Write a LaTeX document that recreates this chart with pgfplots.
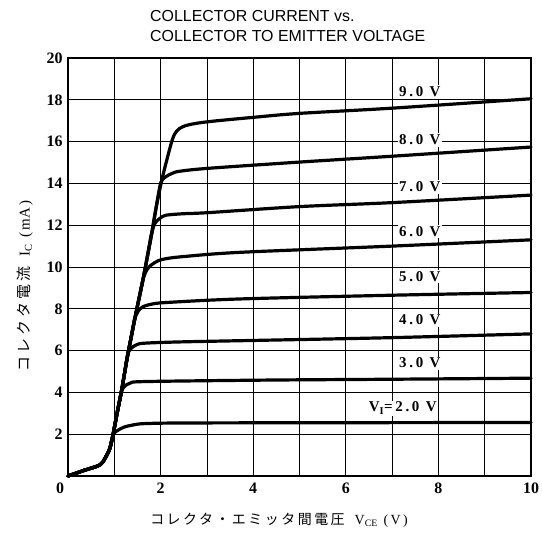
\documentclass[border=0pt]{standalone}
\usepackage{fontspec}
\setmainfont{Liberation Serif}
\newfontfamily\titlefont{Liberation Sans}
\newfontfamily\cjk[LetterSpace=18]{Noto Sans CJK JP}
\newfontfamily\cjky[LetterSpace=22]{Noto Sans CJK JP}
\newfontfamily\lblfont[LetterSpace=18]{Liberation Serif}
\usepackage{pgfplots}
\pgfplotsset{compat=1.18}

\begin{document}
\begin{tikzpicture}
\useasboundingbox (-68bp,-58bp) rectangle (474bp,476bp);
\begin{axis}[
  at={(0,0)}, anchor=south west,
  scale only axis, width=463bp, height=418bp,
  xmin=0, xmax=10, ymin=0, ymax=20,
  xtick={0,1,...,10},
  xticklabels={\makebox[0pt][r]{0\hspace{4bp}},,2,,4,,6,,8,,10},
  ytick={0,2,...,20},
  yticklabels={,2,4,6,8,10,12,14,16,18,20},
  grid=major,
  grid style={black, line width=0.8bp},
  major tick length=0pt,
  axis line style={line width=2bp},
  tick label style={font=\fontsize{16}{16}\selectfont\bfseries},
  xticklabel style={yshift=-3bp},
  yticklabel style={xshift=-2bp},
  curve/.style={black, line width=3.2bp, no markers, smooth, tension=0.5, line join=round, line cap=round},
  clip=false,
]
% V_I = 2.0 V
\addplot[curve] coordinates {(0,0) (0.35,0.27) (0.69,0.53) (0.8,0.85) (0.9,1.3) (0.97,1.95) (1.05,2.15) (1.2,2.33) (1.4,2.44) (1.7,2.51) (3,2.54) (10,2.56)};
% 3.0 V
\addplot[curve] coordinates {(0,0) (0.35,0.27) (0.69,0.53) (0.8,0.85) (0.9,1.3) (0.97,1.95) (1.06,3.0) (1.15,4.0) (1.22,4.28) (1.35,4.45) (1.69,4.52) (4.34,4.59) (7,4.63) (10,4.68)};
% 4.0 V
\addplot[curve] coordinates {(0,0) (0.35,0.27) (0.69,0.53) (0.8,0.85) (0.9,1.3) (0.97,1.95) (1.06,3.0) (1.15,4.0) (1.22,4.9) (1.29,5.8) (1.36,6.1) (1.5,6.3) (1.69,6.36) (2.5,6.42) (4.34,6.5) (7,6.62) (10,6.8)};
% 5.0 V
\addplot[curve] coordinates {(0,0) (0.35,0.27) (0.69,0.53) (0.8,0.85) (0.9,1.3) (0.97,1.95) (1.06,3.0) (1.15,4.0) (1.22,4.9) (1.29,5.8) (1.37,6.7) (1.44,7.5) (1.52,7.9) (1.62,8.1) (1.8,8.22) (2.12,8.3) (3.7,8.47) (7,8.65) (10,8.78)};
% 6.0 V
\addplot[curve] coordinates {(0,0) (0.35,0.27) (0.69,0.53) (0.8,0.85) (0.9,1.3) (0.97,1.95) (1.06,3.0) (1.15,4.0) (1.22,4.9) (1.29,5.8) (1.37,6.7) (1.44,7.5) (1.53,8.45) (1.62,9.4) (1.7,9.85) (1.8,10.1) (1.95,10.3) (2.12,10.4) (2.5,10.5) (3.7,10.7) (7,11.0) (10,11.3)};
% 7.0 V
\addplot[curve] coordinates {(0,0) (0.35,0.27) (0.69,0.53) (0.8,0.85) (0.9,1.3) (0.97,1.95) (1.06,3.0) (1.15,4.0) (1.22,4.9) (1.29,5.8) (1.37,6.7) (1.44,7.5) (1.53,8.45) (1.62,9.4) (1.71,10.45) (1.8,11.55) (1.88,12.1) (2.0,12.35) (2.12,12.48) (2.5,12.55) (3.02,12.6) (5,12.89) (7,13.08) (10,13.44)};
% 8.0 V
\addplot[curve] coordinates {(0,0) (0.35,0.27) (0.69,0.53) (0.8,0.85) (0.9,1.3) (0.97,1.95) (1.06,3.0) (1.15,4.0) (1.22,4.9) (1.29,5.8) (1.37,6.7) (1.44,7.5) (1.53,8.45) (1.62,9.4) (1.71,10.45) (1.8,11.5) (1.9,12.8) (2.0,14.0) (2.1,14.3) (2.25,14.48) (2.41,14.58) (3.02,14.72) (5,15.02) (7,15.3) (10,15.74)};
% 9.0 V
\addplot[curve] coordinates {(0,0) (0.35,0.27) (0.69,0.53) (0.8,0.85) (0.9,1.3) (0.97,1.95) (1.06,3.0) (1.15,4.0) (1.22,4.9) (1.29,5.8) (1.37,6.7) (1.44,7.5) (1.53,8.45) (1.62,9.4) (1.71,10.45) (1.8,11.5) (1.9,12.8) (2.02,14.1) (2.12,15.0) (2.23,15.92) (2.3,16.35) (2.41,16.63) (2.6,16.8) (3.02,16.95) (4,17.16) (5,17.35) (7,17.6) (10,18.05)};

\begin{scope}[every node/.style={fill=white, inner sep=1.5pt, font=\lblfont\fontsize{15}{15}\selectfont\bfseries}]
\node at (axis cs:7.6,18.37) {9.0 V};
\node at (axis cs:7.6,16.08) {8.0 V};
\node at (axis cs:7.6,13.83) {7.0 V};
\node at (axis cs:7.6,11.69) {6.0 V};
\node at (axis cs:7.6,9.54) {5.0 V};
\node at (axis cs:7.6,7.46) {4.0 V};
\node at (axis cs:7.6,5.4) {3.0 V};
\node at (axis cs:7.23,3.25) {V\textsubscript{I}=2.0 V};
\end{scope}
\end{axis}

\node[anchor=north west, align=left, inner sep=0pt, font=\titlefont\fontsize{16}{20}\selectfont] at (82bp,466bp) {COLLECTOR CURRENT vs.\\COLLECTOR TO EMITTER VOLTAGE};

\node[rotate=90, inner sep=0pt, font=\fontsize{15}{15}\selectfont] at (-43bp,190bp)
  {{\cjky コレクタ電流}\hspace{10bp}I\textsubscript{C}\hspace{6bp}(\,mA\,)};

\node[inner sep=0pt, font=\fontsize{14}{14}\selectfont] at (211bp,-44bp)
  {{\cjk コレクタ・エミッタ間電圧}\hspace{10bp}V\textsubscript{CE}\hspace{6bp}(\,V\,)};
\end{tikzpicture}
\end{document}
